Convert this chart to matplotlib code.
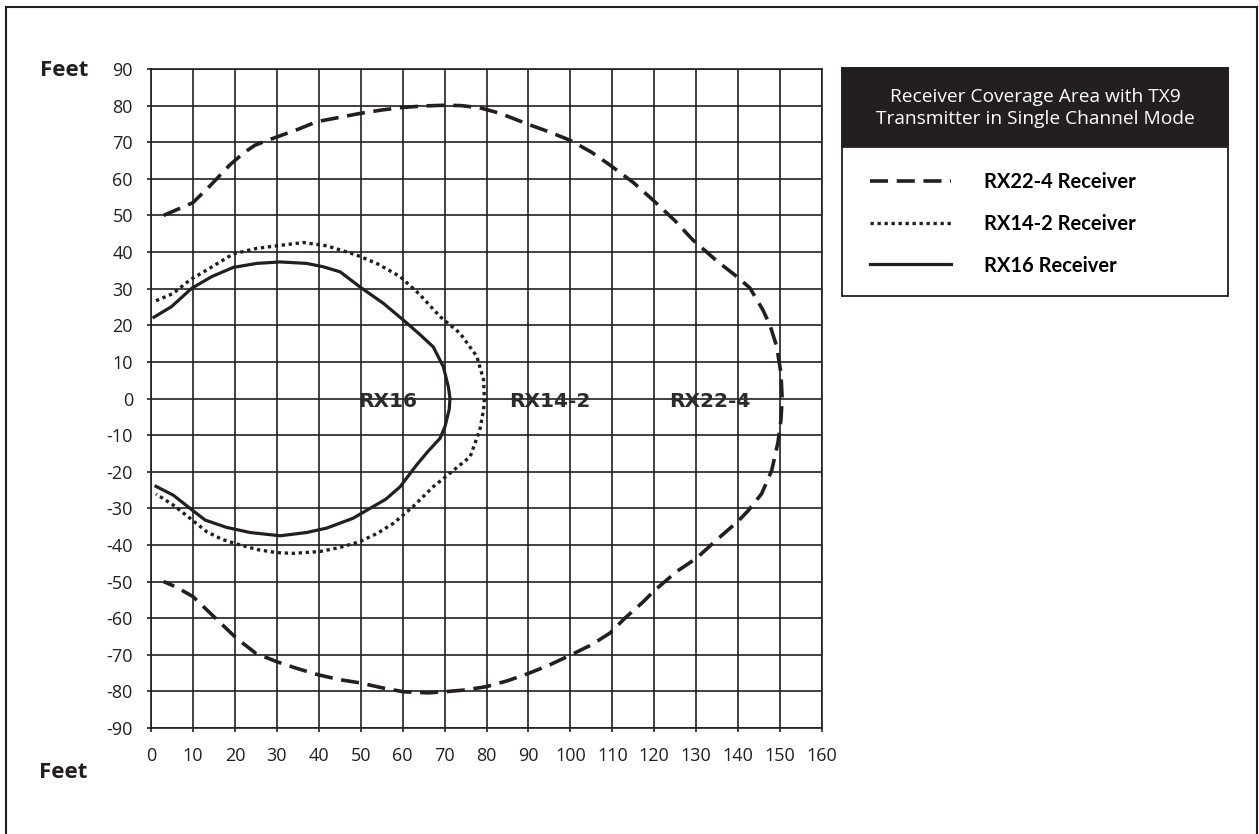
import matplotlib
matplotlib.use("Agg")
import matplotlib.pyplot as plt
import matplotlib.patches as patches

plt.rcParams['font.family'] = ['Open Sans', 'DejaVu Sans']
plt.rcParams['axes.unicode_minus'] = False

ink = '#231f20'

# coverage outlines (feet)
rx22_x = [3, 6, 10, 14, 18.8, 22, 24.8, 29.2, 35, 39.5, 45, 50, 55, 60, 65, 70, 74, 78.4, 83.2, 90.4,
          95, 100, 105, 109.4, 115, 119.7, 125, 129.2, 135, 139.7, 142.8, 145.9, 147.6, 149.2, 150.2,
          150.5, 150.2, 149.5, 148, 145.6, 142.5, 140, 135, 130.1, 125.3, 120, 117.4, 113, 109.4, 105,
          100, 95, 90, 85, 80, 75, 70, 66, 60.2, 55, 50, 45, 40, 35, 30, 25, 20.4, 15, 10, 6, 3]
rx22_y = [50, 51.5, 53.5, 58, 63.8, 67, 69.2, 71.1, 73.5, 75.6, 76.8, 77.9, 78.8, 79.5, 79.9, 80.1, 80,
          79.4, 77.9, 74.7, 72.8, 70.5, 67.3, 63.8, 59, 54.2, 48.5, 43.3, 37.5, 33.3, 30.2, 24.2, 20,
          14.2, 7, 0, -6, -12, -19.7, -26, -30.5, -33.5, -38.5, -43.6, -47.3, -52.5, -55.5, -60, -64.1,
          -67.3, -70.1, -72.8, -75.1, -77.1, -78.7, -79.6, -80.1, -80.4, -80.1, -79, -77.7, -76.8, -75.5,
          -73.8, -71.9, -69.6, -65.5, -59.6, -54.1, -51.5, -50]

rx14_x = [1.2, 5.3, 9.3, 13.3, 19.6, 25.2, 30, 36.3, 41.9, 49, 54, 59.4, 64, 68.9, 73.7, 77.7, 79.3,
          79.5, 79.3, 78.4, 76.1, 71.3, 67.3, 62.5, 57.8, 54, 49.8, 45, 40.3, 33.9, 30, 25.5, 21.2, 17,
          13.3, 9.3, 5.3, 1.2]
rx14_y = [26.7, 28.7, 32.4, 35.1, 39.5, 41.0, 41.7, 42.6, 41.7, 39.2, 36.8, 33.3, 28.5, 22.4, 17.8, 11.5,
          5.1, 0, -3.1, -8.6, -15.9, -20.4, -24.1, -29.5, -34.1, -36.8, -39.1, -40.7, -41.8, -42.3, -42.1,
          -41.3, -40.0, -38.5, -36.4, -32.7, -29.1, -26.1]

rx16_x = [0.7, 4.9, 9.7, 14.5, 19.6, 25.2, 30.8, 37.1, 41, 45.1, 49.8, 55.4, 60.2, 64, 67.3, 69.7, 70.9,
          71.3, 71.1, 70.1, 68.9, 66, 63.3, 59.4, 56, 53, 48.2, 41.9, 37.1, 30.8, 23.6, 18, 12.9, 9.3,
          5.3, 1.2]
rx16_y = [22.2, 25.1, 30.1, 33.3, 35.8, 36.9, 37.3, 36.9, 36, 34.6, 30.5, 26.0, 21.4, 17.6, 14.1, 8.7, 3.2,
          0, -3, -7.7, -10.9, -14.5, -18.2, -24.1, -27.5, -29.5, -32.7, -35.4, -36.6, -37.5, -36.6,
          -35.2, -33.2, -30.0, -26.4, -24]

series_labels = ['RX22-4 Receiver', 'RX14-2 Receiver', 'RX16 Receiver']
zone_labels = ['RX16', 'RX14-2', 'RX22-4']
zone_x = [56.5, 95, 133.3]
x_ticks = list(range(0, 161, 10))
y_ticks = list(range(-90, 91, 10))

W, H = 1259, 834
fig = plt.figure(figsize=(W / 100, H / 100), dpi=100)
ax = fig.add_axes([151 / W, 1 - 728 / H, (822 - 151) / W, (728 - 69) / H])

l22, = ax.plot(rx22_x, rx22_y, color=ink, lw=2.6, dashes=(5, 2.4), dash_capstyle='butt')
l14, = ax.plot(rx14_x, rx14_y, color=ink, lw=2.4, dashes=(1, 1.1), dash_capstyle='butt')
l16, = ax.plot(rx16_x, rx16_y, color=ink, lw=2.3)

for lab, zx in zip(zone_labels, zone_x):
    ax.text(zx, -0.8, lab, ha='center', va='center', fontsize=14.5, fontweight='heavy',
            family='DejaVu Sans', color='#2b2b2b')

ax.set_xlim(0, 160)
ax.set_ylim(-90, 90)
ax.set_xticks(x_ticks)
ax.set_yticks(y_ticks)
ax.grid(True, color=ink, lw=1.2)
ax.set_axisbelow(True)
for s in ax.spines.values():
    s.set_color(ink)
    s.set_linewidth(1.2)
ax.tick_params(axis='both', direction='out', length=3, width=1.2, color=ink,
               labelsize=13, labelcolor=ink)
ax.tick_params(axis='y', pad=10)
ax.tick_params(axis='x', pad=11)

fig.text(64 / W, 1 - 70 / H, 'Feet', ha='center', va='center', fontsize=16, fontweight='bold', color=ink)
fig.text(63 / W, 1 - 773 / H, 'Feet', ha='center', va='center', fontsize=16, fontweight='bold', color=ink)

# outer frame
fig.patches.append(patches.Rectangle((6 / W, -0.05), (1257 - 6) / W, 1.05 - 7 / H, transform=fig.transFigure,
                                     fill=False, edgecolor=ink, lw=1.5))

# legend box
bx0, bx1, by0, by1, bt = 842, 1228, 68, 296, 147
fig.patches.append(patches.Rectangle((bx0 / W, 1 - by1 / H), (bx1 - bx0) / W, (by1 - by0) / H,
                                     transform=fig.transFigure, facecolor='white', edgecolor=ink, lw=1.3))
fig.patches.append(patches.Rectangle((bx0 / W, 1 - bt / H), (bx1 - bx0) / W, (bt - by0) / H,
                                     transform=fig.transFigure, facecolor=ink, edgecolor=ink, lw=1.3))
fig.text((bx0 + bx1) / 2 / W, 1 - 108 / H, 'Receiver Coverage Area with TX9\nTransmitter in Single Channel Mode',
         ha='center', va='center', color='white', fontsize=13.8, linespacing=1.35)

fig.legend([l22, l14, l16], series_labels, loc='upper left', bbox_to_anchor=(870 / W, 1 - 172 / H),
           frameon=False, handlelength=4.0, handletextpad=1.65, labelspacing=1.08, borderpad=0,
           borderaxespad=0, prop={'family': ['Lato', 'DejaVu Sans'], 'weight': 'bold', 'size': 14.5})

fig.savefig('out.png', dpi=100)
